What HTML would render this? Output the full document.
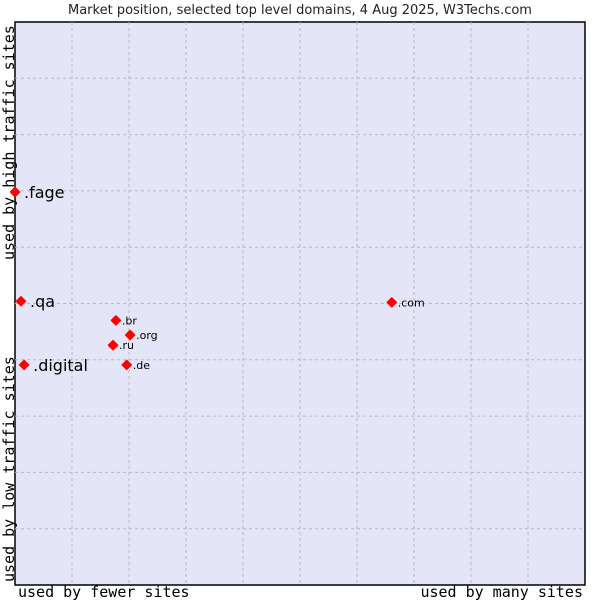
<!DOCTYPE html>
<html><head><meta charset="utf-8"><style>
body{margin:0;background:#fff;width:600px;height:600px;overflow:hidden}
</style></head><body>
<svg width="600" height="600" xmlns="http://www.w3.org/2000/svg">
<text x="300" y="14" text-anchor="middle" font-family="DejaVu Sans, sans-serif" font-size="13" fill="#222">Market position, selected top level domains, 4 Aug 2025, W3Techs.com</text>
<rect x="15" y="22" width="570" height="563" fill="#e4e5f7" stroke="#000" stroke-width="1.5"/>
<g id="grid"></g>
<g id="pts"></g>
<text x="18" y="597" font-family="DejaVu Sans Mono, monospace" font-size="15">used by fewer sites</text>
<text x="583" y="597" text-anchor="end" font-family="DejaVu Sans Mono, monospace" font-size="15">used by many sites</text>
<text transform="translate(14,260) rotate(-90)" font-family="DejaVu Sans Mono, monospace" font-size="15">used by high traffic sites</text>
<text transform="translate(14,582) rotate(-90)" font-family="DejaVu Sans Mono, monospace" font-size="15">used by low traffic sites</text>
</svg>
<script>
const names=[".fage",".qa",".digital",".br",".org",".ru",".de",".com"];
const xVals=[0,1.05,1.6,17.7,20.2,17.2,19.6,66.1];
const yVals=[69.8,50.4,39.1,47.0,44.4,42.6,39.1,50.2];
const big=[true,true,true,false,false,false,false,false];
const X0=15,X1=585,Y0=585,Y1=22;
const sx=v=>X0+v/100*(X1-X0), sy=v=>Y0-v/100*(Y0-Y1);
const NS="http://www.w3.org/2000/svg";
const g=document.getElementById('grid');
for(let i=1;i<10;i++){
 const v=document.createElementNS(NS,'line');
 v.setAttribute('x1',sx(i*10));v.setAttribute('x2',sx(i*10));v.setAttribute('y1',Y1);v.setAttribute('y2',Y0);
 v.setAttribute('stroke','#b8b8b8');v.setAttribute('stroke-dasharray','3,3');
 
 
 g.appendChild(v);
 const h=document.createElementNS(NS,'line');
 h.setAttribute('y1',sy(i*10));h.setAttribute('y2',sy(i*10));h.setAttribute('x1',X0);h.setAttribute('x2',X1);
 h.setAttribute('stroke','#b8b8b8');h.setAttribute('stroke-dasharray','3,3');
 
 
 g.appendChild(h);
}
const p=document.getElementById('pts');
names.forEach((n,i)=>{
 const x=sx(xVals[i]),y=sy(yVals[i]);
 const d=document.createElementNS(NS,'path');
 d.setAttribute('d',`M${x-4.5},${y} L${x},${y-4.5} L${x+4.5},${y} L${x},${y+4.5}Z`);
 d.setAttribute('fill','#f00');d.setAttribute('stroke','#f00');d.setAttribute('stroke-width','1.5');d.setAttribute('stroke-linejoin','round');
 
 
 p.appendChild(d);
 const t=document.createElementNS(NS,'text');
 t.setAttribute('x',x+(big[i]?9:6));t.setAttribute('y',y+(big[i]?6:4));
 t.setAttribute('font-family','DejaVu Sans, sans-serif');t.setAttribute('font-size',big[i]?16:11);
 t.textContent=n;
 
 
 p.appendChild(t);
});
</script>
</body></html>
